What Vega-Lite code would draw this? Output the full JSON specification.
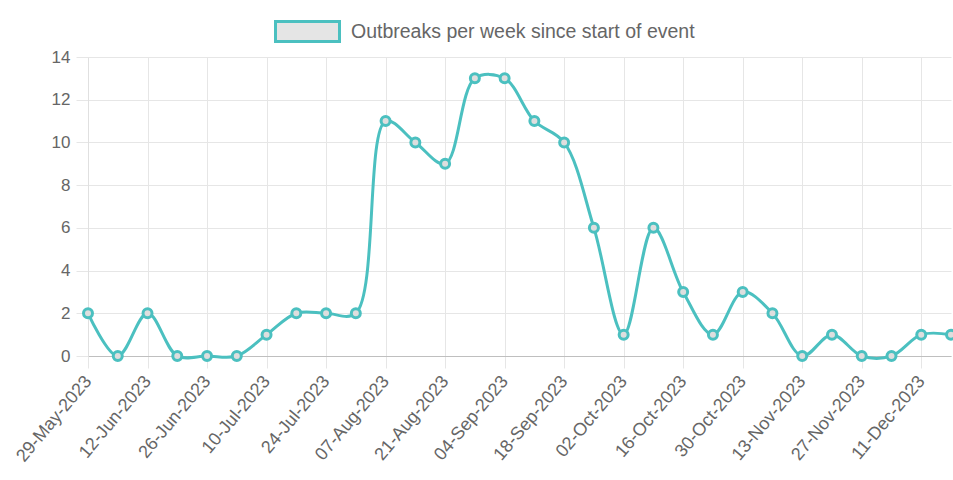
{
  "$schema": "https://vega.github.io/schema/vega-lite/v6.json",
  "width": 863,
  "height": 299,
  "autosize": {"type": "pad"},
  "padding": {"left": 12, "top": 20, "right": 0, "bottom": 0},
  "background": "white",
  "config": {"view": {"stroke": null}, "font": "Liberation Sans"},
  "data": {
    "values": [
      {"week": "2023-05-29", "count": 2},
      {"week": "2023-06-05", "count": 0},
      {"week": "2023-06-12", "count": 2},
      {"week": "2023-06-19", "count": 0},
      {"week": "2023-06-26", "count": 0},
      {"week": "2023-07-03", "count": 0},
      {"week": "2023-07-10", "count": 1},
      {"week": "2023-07-17", "count": 2},
      {"week": "2023-07-24", "count": 2},
      {"week": "2023-07-31", "count": 2},
      {"week": "2023-08-07", "count": 11},
      {"week": "2023-08-14", "count": 10},
      {"week": "2023-08-21", "count": 9},
      {"week": "2023-08-28", "count": 13},
      {"week": "2023-09-04", "count": 13},
      {"week": "2023-09-11", "count": 11},
      {"week": "2023-09-18", "count": 10},
      {"week": "2023-09-25", "count": 6},
      {"week": "2023-10-02", "count": 1},
      {"week": "2023-10-09", "count": 6},
      {"week": "2023-10-16", "count": 3},
      {"week": "2023-10-23", "count": 1},
      {"week": "2023-10-30", "count": 3},
      {"week": "2023-11-06", "count": 2},
      {"week": "2023-11-13", "count": 0},
      {"week": "2023-11-20", "count": 1},
      {"week": "2023-11-27", "count": 0},
      {"week": "2023-12-04", "count": 0},
      {"week": "2023-12-11", "count": 1},
      {"week": "2023-12-18", "count": 1}
    ]
  },
  "encoding": {
    "x": {
      "field": "week",
      "type": "temporal",
      "scale": {
        "type": "utc",
        "nice": false,
        "domain": [
          {"year": 2023, "month": 5, "date": 29, "utc": true},
          {"year": 2023, "month": 12, "date": 18, "utc": true}
        ]
      },
      "axis": {
        "title": null,
        "values": [
          {"year": 2023, "month": 5, "date": 29, "utc": true},
          {"year": 2023, "month": 6, "date": 12, "utc": true},
          {"year": 2023, "month": 6, "date": 26, "utc": true},
          {"year": 2023, "month": 7, "date": 10, "utc": true},
          {"year": 2023, "month": 7, "date": 24, "utc": true},
          {"year": 2023, "month": 8, "date": 7, "utc": true},
          {"year": 2023, "month": 8, "date": 21, "utc": true},
          {"year": 2023, "month": 9, "date": 4, "utc": true},
          {"year": 2023, "month": 9, "date": 18, "utc": true},
          {"year": 2023, "month": 10, "date": 2, "utc": true},
          {"year": 2023, "month": 10, "date": 16, "utc": true},
          {"year": 2023, "month": 10, "date": 30, "utc": true},
          {"year": 2023, "month": 11, "date": 13, "utc": true},
          {"year": 2023, "month": 11, "date": 27, "utc": true},
          {"year": 2023, "month": 12, "date": 11, "utc": true}
        ],
        "format": "%d-%b-%Y",
        "labelAngle": -50,
        "labelAlign": "right",
        "labelBaseline": "middle",
        "labelOverlap": false,
        "labelBound": false,
        "labelFlush": false,
        "labelPadding": 10,
        "labelFontSize": 18,
        "labelColor": "#666666",
        "labelFont": "Liberation Sans",
        "grid": true,
        "gridColor": "#e6e6e6",
        "tickColor": "#e6e6e6",
        "tickSize": 12,
        "domainColor": "#bfbfbf"
      }
    },
    "y": {
      "field": "count",
      "type": "quantitative",
      "scale": {"domain": [0, 14], "nice": false},
      "axis": {
        "title": null,
        "values": [0, 2, 4, 6, 8, 10, 12, 14],
        "labelFontSize": 17,
        "labelColor": "#666666",
        "labelFont": "Liberation Sans",
        "labelPadding": 6,
        "gridColor": "#e6e6e6",
        "tickColor": "#e6e6e6",
        "tickSize": 12,
        "domainColor": "#e0e0e0"
      }
    }
  },
  "layer": [
    {
      "mark": {"type": "line", "interpolate": "catmull-rom", "strokeWidth": 3},
      "encoding": {
        "color": {
          "datum": "Outbreaks per week since start of event",
          "type": "nominal",
          "scale": {"range": ["#4BC0C0"]},
          "legend": {
            "orient": "none",
            "legendX": 208,
            "legendY": -37,
            "title": null,
            "padding": 0,
            "labelFontSize": 19.5,
            "labelLimit": 0,
            "labelColor": "#666666",
            "labelFont": "Liberation Sans",
            "labelOffset": 32,
            "symbolType": "M-3.2,-1H3.2V1H-3.2Z",
            "symbolSize": 400,
            "symbolStrokeWidth": 3,
            "symbolFillColor": "#e5e5e5",
            "symbolStrokeColor": "#4BC0C0",
            "encode": {
              "symbols": {
                "update": {
                  "fill": {"value": "#e5e5e5"},
                  "stroke": {"value": "#4BC0C0"},
                  "strokeWidth": {"value": 3},
                  "opacity": {"value": 1}
                }
              }
            }
          }
        }
      }
    },
    {
      "mark": {
        "type": "point",
        "shape": "circle",
        "filled": true,
        "size": 81,
        "fill": "#dedede",
        "stroke": "#4BC0C0",
        "strokeWidth": 3,
        "opacity": 1
      }
    }
  ]
}
